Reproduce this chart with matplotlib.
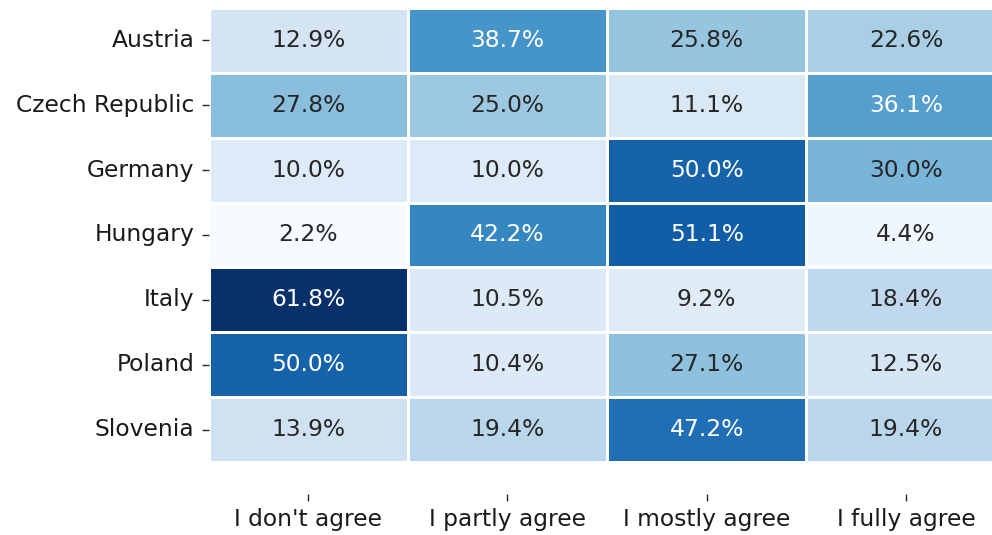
import matplotlib
matplotlib.use("Agg")
import matplotlib.pyplot as plt
import seaborn as sns
import numpy as np
import pandas as pd

countries = ["Austria", "Czech Republic", "Germany", "Hungary", "Italy", "Poland", "Slovenia"]
answers = ["I don't agree", "I partly agree", "I mostly agree", "I fully agree"]
dont_agree = [0.129, 0.278, 0.100, 0.022, 0.618, 0.500, 0.139]
partly_agree = [0.387, 0.250, 0.100, 0.422, 0.105, 0.104, 0.194]
mostly_agree = [0.258, 0.111, 0.500, 0.511, 0.092, 0.271, 0.472]
fully_agree = [0.226, 0.361, 0.300, 0.044, 0.184, 0.125, 0.194]

df = pd.DataFrame({answers[0]: dont_agree, answers[1]: partly_agree,
                   answers[2]: mostly_agree, answers[3]: fully_agree},
                  index=countries)

plt.rcParams['font.family'] = ['DejaVu Sans']
fig = plt.figure(figsize=(9.92, 5.35), dpi=100)
ax = fig.add_axes([208.5 / 992, 40.6 / 535, (1005.6 - 208.5) / 992, (527 - 40.6) / 535])
sns.heatmap(df, cmap="Blues", annot=True, fmt=".1%", cbar=False,
            linewidths=0.8, linecolor="white", ax=ax,
            annot_kws={"fontsize": 16.8})
ax.set_ylim(7.5, 0)
ax.tick_params(axis='both', labelsize=16.8, length=5, width=1, colors='#262626')
ax.tick_params(axis='y', rotation=0, pad=5)
ax.tick_params(axis='x', pad=5)
for t in ax.get_xticklabels() + ax.get_yticklabels():
    t.set_color('#1a1a1a')
ax.set_xlabel("")
ax.set_ylabel("")
fig.savefig("out.png", dpi=100)
